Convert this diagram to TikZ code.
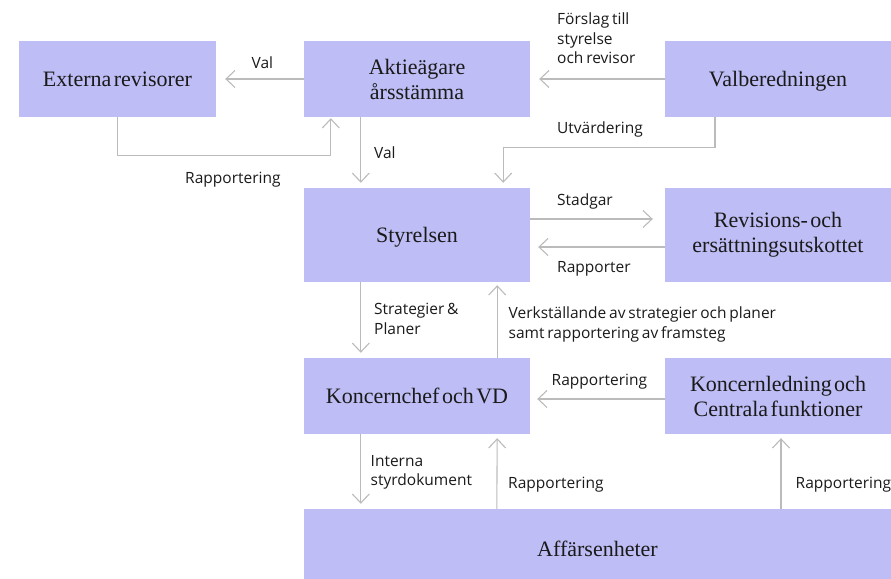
\documentclass[tikz,border=0pt]{standalone}
\usepackage{fontspec}
\setmainfont{Liberation Serif}[WordSpace=0.45]
\newfontfamily\lblfont{Open Sans}[WordSpace=0.7]
\usetikzlibrary{arrows.meta}
\definecolor{boxfill}{RGB}{190,189,245}
\definecolor{arrgray}{RGB}{187,187,187}
\definecolor{ink}{RGB}{26,26,26}
\begin{document}
\begin{tikzpicture}[x=1pt,y=-1pt,
  box/.style={fill=boxfill,inner sep=0pt,align=center,text=ink,font=\fontsize{22}{25}\selectfont},
  onebox/.style={box,text height=18pt,text depth=4pt},
  arr/.style={draw=arrgray,line width=1.1pt,-{Straight Barb[length=9pt,width=17pt]}},
  lbl/.style={anchor=north west,inner sep=0pt,align=left,text=ink,font=\lblfont\fontsize{15.5}{19.5}\selectfont}]
\useasboundingbox (0,0) rectangle (891,578);

% boxes
\node[onebox,minimum width=197pt,minimum height=76pt] (ext) at (117.5,79) {Externa revisorer};
\node[box,minimum width=226pt,minimum height=76pt] (aga) at (417,79) {Aktieägare\\årsstämma};
\node[onebox,minimum width=226pt,minimum height=76pt] (valb) at (778,79) {Valberedningen};
\node[onebox,minimum width=226pt,minimum height=94pt] (sty) at (417,235) {Styrelsen};
\node[box,minimum width=226pt,minimum height=94pt] (rev) at (778,235) {Revisions- och\\ersättningsutskottet};
\node[onebox,minimum width=226pt,minimum height=76pt] (kvd) at (417,396) {Koncernchef och VD};
\node[box,minimum width=226pt,minimum height=76pt] (kl) at (778,396) {Koncernledning och\\Centrala funktioner};
\node[onebox,minimum width=587pt,minimum height=80pt] (aff) at (597.5,549) {Affärsenheter};

% connectors
\draw[arr] (aga.west) -- ([xshift=9pt]ext.east);
\coordinate (rt) at ([xshift=27pt,yshift=-1pt]aga.south west);
\draw[arr] (ext.south) -- ++(0,38) -| (rt);
\draw[arr] ([xshift=57pt]aga.south west) -- ([xshift=57pt,yshift=5pt]sty.north west);
\draw[arr] (valb.west) -- ([xshift=9pt]aga.east);
\draw[arr] ([xshift=-63pt]valb.south) -- ++(0,30) -| ([xshift=-27pt,yshift=5pt]sty.north east);
\draw[arr] ([yshift=16pt]sty.east) -- ([xshift=-12pt,yshift=16pt]rev.west);
\draw[arr] ([yshift=-12pt]rev.west) -- ([xshift=8pt,yshift=-12pt]sty.east);
\draw[arr] ([xshift=57pt]sty.south west) -- ([xshift=57pt,yshift=5pt]kvd.north west);
\draw[arr] ([xshift=-33pt]kvd.north east) -- ([xshift=-33pt,yshift=-3pt]sty.south east);
\draw[arr] ([yshift=-3pt]kl.west) -- ([xshift=7pt,yshift=-3pt]kvd.east);
\draw[arr] ([xshift=57pt]kvd.south west) -- ([xshift=57pt,yshift=5pt]aff.north west);
\draw[arr] ([xshift=193pt]aff.north west) -- ([xshift=-33pt,yshift=-4pt]kvd.south east);
\coordinate (kt) at ([xshift=3pt,yshift=-4pt]kl.south);
\draw[arr] (kt |- aff.north) -- (kt);

% labels
\node[lbl] (l1) at (251.5,56.5) {Val};
\node[lbl] (l2) at (185,171.5) {Rapportering};
\node[lbl] (l3) at (374,146.5) {Val};
\node[lbl] (l4) at (557,13) {Förslag till\\styrelse\\och revisor};
\node[lbl] (l5) at (557,122) {Utvärdering};
\node[lbl] (l6) at (557,194) {Stadgar};
\node[lbl] (l7) at (557,261.5) {Rapporter};
\node[lbl] (l8) at (374,303) {Strategier \&\\Planer};
\node[lbl] (l9) at (508.5,307) {Verkställande av strategier och planer\\samt rapportering av framsteg};
\node[lbl] (l10) at (551.5,374) {Rapportering};
\node[lbl] (l11) at (370.5,455) {Interna\\styrdokument};
\node[lbl] (l12) at (508,476.5) {Rapportering};
\node[lbl] (l13) at (795.5,476.5) {Rapportering};
\end{tikzpicture}
\end{document}
